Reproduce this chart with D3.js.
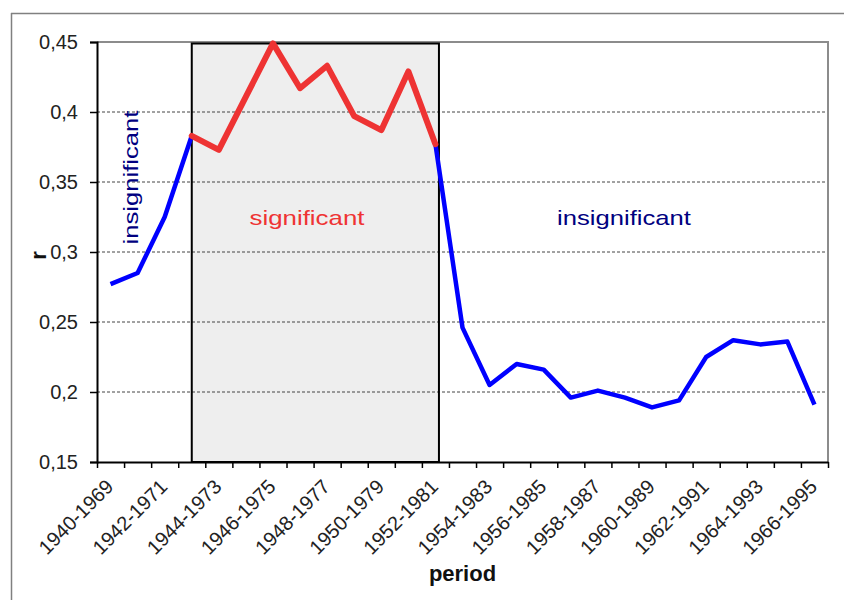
<!DOCTYPE html>
<html>
<head>
<meta charset="utf-8">
<script src="https://cdn.jsdelivr.net/npm/d3@7"></script>
<style>
  html, body { margin: 0; padding: 0; background: #fff; }
  svg { display: block; font-family: Arial, "Liberation Sans", sans-serif; }
</style>
</head>
<body>
<svg id="chart" width="844" height="600"></svg>
<script>
// ---- data ----
const periods = [
  "1940-1969","1941-1970","1942-1971","1943-1972","1944-1973","1945-1974","1946-1975",
  "1947-1976","1948-1977","1949-1978","1950-1979","1951-1980","1952-1981","1953-1982",
  "1954-1983","1955-1984","1956-1985","1957-1986","1958-1987","1959-1988","1960-1989",
  "1961-1990","1962-1991","1963-1992","1964-1993","1965-1994","1966-1995"
];
const rValues = [
  0.277, 0.285, 0.325, 0.383, 0.373, 0.411, 0.449, 0.417, 0.433, 0.397, 0.387, 0.429,
  0.377, 0.246, 0.205, 0.220, 0.216, 0.196, 0.201, 0.196, 0.189, 0.194, 0.225, 0.237,
  0.234, 0.236, 0.191
];
const yTicks = [0.15, 0.2, 0.25, 0.3, 0.35, 0.4, 0.45];
const labelPeriods = periods.filter((d, i) => i % 2 === 0);
const sigStart = 3, sigEnd = 12;   // indices of the significant window

// ---- layout ----
const svg = d3.select("#chart");
const L = 97, R = 828, T = 42, B = 462;

const x = d3.scalePoint().domain(periods).range([L, R]).padding(0.5);
const step = x.step();
const y = d3.scaleLinear().domain([0.15, 0.45]).range([B, T]);
const fmt = d => String(d).replace(".", ",");

// outer frame
svg.append("line").attr("x1", 11).attr("x2", 844).attr("y1", 13.5).attr("y2", 13.5)
  .attr("stroke", "#808080").attr("stroke-width", 1.5);
svg.append("line").attr("x1", 11.5).attr("x2", 11.5).attr("y1", 13).attr("y2", 600)
  .attr("stroke", "#808080").attr("stroke-width", 1.5);

// significant box (fill)
const boxX0 = x(periods[sigStart]);
const boxX1 = x(periods[sigEnd]) + step * 0.13;
const boxY0 = y(0.45) + 1.5;
svg.append("rect").attr("x", boxX0).attr("y", boxY0)
  .attr("width", boxX1 - boxX0).attr("height", B - boxY0)
  .attr("fill", "#eeeeee");

// gridlines
svg.append("g").selectAll("line").data(yTicks.filter(v => v > 0.15 && v < 0.45)).join("line")
  .attr("x1", L).attr("x2", R).attr("y1", d => y(d)).attr("y2", d => y(d))
  .attr("stroke", "#444").attr("stroke-width", 1).attr("stroke-dasharray", "3,2");

// plot border top/right
svg.append("path")
  .attr("d", `M${L},${T}H${R}V${B}`)
  .attr("fill", "none").attr("stroke", "#8c8c8c").attr("stroke-width", 2);

// box stroke
svg.append("rect").attr("x", boxX0).attr("y", boxY0)
  .attr("width", boxX1 - boxX0).attr("height", B - boxY0)
  .attr("fill", "none").attr("stroke", "#000").attr("stroke-width", 2);

// y axis
const yAxis = d3.axisLeft(y).tickValues(yTicks).tickFormat(fmt).tickSize(7).tickPadding(12);
const gy = svg.append("g").attr("transform", `translate(${L},0)`).call(yAxis);
gy.select(".domain").attr("stroke", "#000").attr("stroke-width", 2);
gy.selectAll(".tick line").attr("stroke", "#000").attr("stroke-width", 1.5);
gy.selectAll(".tick text").attr("font-size", 20).attr("fill", "#222")
  .attr("font-family", "Arial, 'Liberation Sans', sans-serif");

// x axis: tick marks between categories
const xb = d3.scaleLinear().domain([0, periods.length]).range([L, R]);
const gx = svg.append("g").attr("transform", `translate(0,${B})`)
  .call(d3.axisBottom(xb).tickValues(d3.range(0, periods.length + 1)).tickFormat("").tickSize(6).tickSizeOuter(0));
gx.select(".domain").attr("stroke", "#000").attr("stroke-width", 2);
gx.selectAll(".tick line").attr("stroke", "#000").attr("stroke-width", 1.5);

// x labels
svg.append("g").selectAll("text").data(labelPeriods).join("text")
  .attr("transform", d => `translate(${x(d) + 4},${B + 26}) rotate(-45)`)
  .attr("text-anchor", "end")
  .attr("font-size", 20).attr("fill", "#222")
  .text(d => d);

// lines
const line = d3.line().x(d => x(d.p)).y(d => y(d.v));
const pts = periods.map((p, i) => ({ p, v: rValues[i] }));
const blue1 = pts.slice(0, sigStart + 1);
const red = pts.slice(sigStart, sigEnd + 1);
const blue2 = pts.slice(sigEnd);
[blue1, blue2].forEach(seg => {
  svg.append("path").datum(seg).attr("d", line)
    .attr("fill", "none").attr("stroke", "#0000ff").attr("stroke-width", 4.5)
    .attr("stroke-linejoin", "round");
});
svg.append("path").datum(red).attr("d", line)
  .attr("fill", "none").attr("stroke", "#ee3333").attr("stroke-width", 6)
  .attr("stroke-linejoin", "round").attr("stroke-linecap", "round");

// annotations
svg.append("text")
  .attr("transform", `translate(138,177.5) rotate(-90)`)
  .attr("font-size", 21).attr("fill", "#000080")
  .attr("text-anchor", "middle")
  .attr("textLength", 134).attr("lengthAdjust", "spacingAndGlyphs")
  .text("insignificant");
svg.append("text")
  .attr("x", 307).attr("y", 225)
  .attr("font-size", 21).attr("fill", "#ee3333")
  .attr("text-anchor", "middle")
  .attr("textLength", 115).attr("lengthAdjust", "spacingAndGlyphs")
  .text("significant");
svg.append("text")
  .attr("x", 624).attr("y", 225)
  .attr("font-size", 21).attr("fill", "#000080")
  .attr("text-anchor", "middle")
  .attr("textLength", 134).attr("lengthAdjust", "spacingAndGlyphs")
  .text("insignificant");

// axis titles
svg.append("text")
  .attr("transform", `translate(46,255.5) rotate(-90)`)
  .attr("text-anchor", "middle").attr("font-size", 22).attr("font-weight", "bold")
  .attr("fill", "#111").text("r");
svg.append("text")
  .attr("x", (L + R) / 2).attr("y", 581)
  .attr("text-anchor", "middle").attr("font-size", 22).attr("font-weight", "bold")
  .attr("fill", "#111").text("period");
</script>
</body>
</html>
